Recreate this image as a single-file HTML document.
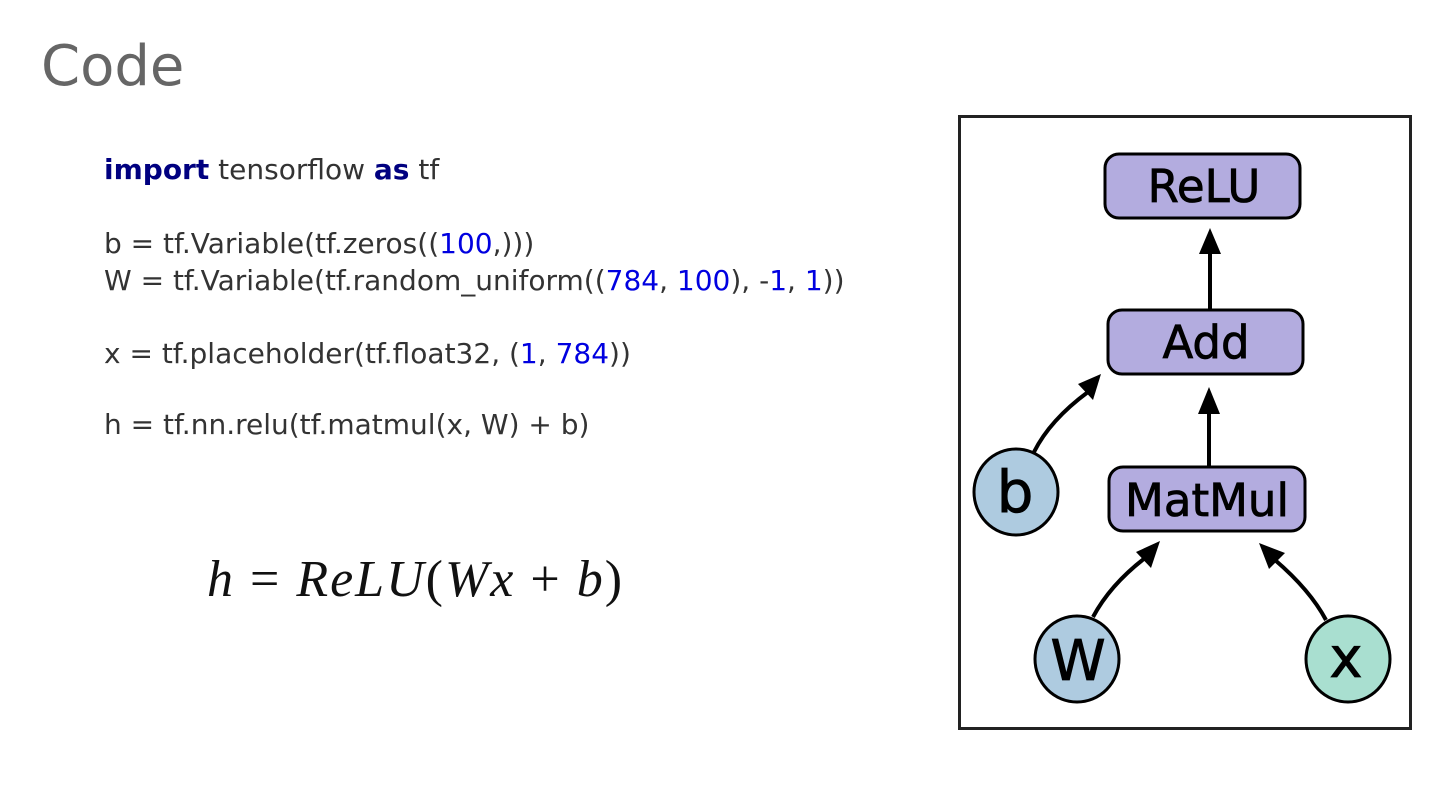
<!DOCTYPE html>
<html><head><style>
body{margin:0;width:1440px;height:811px;background:#fff;position:relative;overflow:hidden;font-family:"DejaVu Sans","Liberation Sans",sans-serif}
.t{position:absolute;left:41px;top:34px;font-size:56px;color:#666}
.c{position:absolute;left:104px;font-size:28px;color:#333;white-space:pre;line-height:30px}
.k{color:#000080;font-weight:bold}.n{color:#0000e0}
.m{position:absolute;left:207px;top:550px;font-family:"Liberation Serif","DejaVu Serif",serif;font-style:italic;font-size:52px;letter-spacing:2px;color:#111;white-space:pre}
</style></head><body>
<div class="t">Code</div>
<div class="c" style="top:155px"><span class="k">import</span> tensorflow <span class="k">as</span> tf</div>
<div class="c" style="top:229px">b = tf.Variable(tf.zeros((<span class="n">100</span>,)))</div>
<div class="c" style="top:266px">W = tf.Variable(tf.random_uniform((<span class="n">784</span>, <span class="n">100</span>), -<span class="n">1</span>, <span class="n">1</span>))</div>
<div class="c" style="top:339px">x = tf.placeholder(tf.float32, (<span class="n">1</span>, <span class="n">784</span>))</div>
<div class="c" style="top:410px">h = tf.nn.relu(tf.matmul(x, W) + b)</div>
<div class="m">h <span style="font-style:normal">=</span> ReLU<span style="font-style:normal">(</span>Wx <span style="font-style:normal">+</span> b<span style="font-style:normal">)</span></div>
<svg style="position:absolute;left:0;top:0" width="1440" height="811">
<rect x="959.5" y="116.5" width="451" height="612" fill="#fff" stroke="#222" stroke-width="3"/>
<g stroke="#000" stroke-width="3" fill="#b3acdf">
<rect x="1105" y="154" width="195" height="64" rx="14"/>
<rect x="1108" y="310" width="195" height="64" rx="14"/>
<rect x="1109" y="467" width="196" height="64" rx="14"/>
<ellipse cx="1016" cy="492" rx="42" ry="43" fill="#aecbe0"/>
<ellipse cx="1077" cy="659" rx="42" ry="43" fill="#aecbe0"/>
<ellipse cx="1348" cy="659" rx="42" ry="43" fill="#a9dfd0"/>
</g>
<g stroke="#000" stroke-width="4" fill="none">
<line x1="1210" y1="310" x2="1210" y2="250"/>
<line x1="1209" y1="467" x2="1209" y2="410"/>
<path d="M1034,452 Q1050,420 1088,392"/>
<path d="M1093,617 Q1110,585 1145,558"/>
<path d="M1326,620 Q1310,590 1275,560"/>
</g>
<g fill="#000">
<polygon points="1210,228 1221,254 1199,254"/>
<polygon points="1209,387 1220,414 1198,414"/>
<polygon points="1101,374 1093,400 1078,384"/>
<polygon points="1160,541 1151,568 1136,552"/>
<polygon points="1259,543 1285,553 1269,569"/>
</g>
<g font-family="DejaVu Sans,sans-serif" fill="#000" stroke="#000" stroke-width="0.8" text-anchor="middle">
<text x="1204" y="202" font-size="45">ReLU</text>
<text x="1206" y="358" font-size="45">Add</text>
<text x="1207" y="516" font-size="45">MatMul</text>
<text x="1015" y="512" font-size="58">b</text>
<text x="1078" y="680" font-size="56">W</text>
<text x="1346" y="677" font-size="56">x</text>
</g>
</svg>
</body></html>
